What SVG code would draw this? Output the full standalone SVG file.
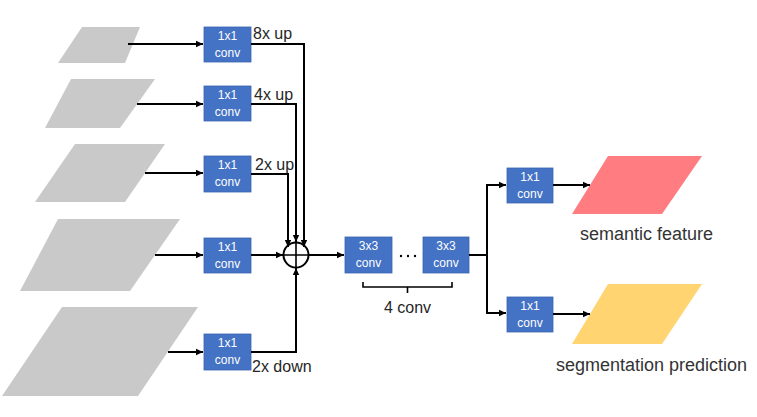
<svg xmlns="http://www.w3.org/2000/svg" width="757" height="417" viewBox="0 0 757 417">
<style>
.feat{fill:#c9c9c9}
.box{fill:#4472c4;stroke:#3a64b0;stroke-width:0.8}
.bt{font-family:"Liberation Sans",Arial,sans-serif;font-size:12px;fill:#ffffff;text-anchor:middle}
.lbl{font-family:"Liberation Sans",Arial,sans-serif;font-size:16px;fill:#262626}
.big{font-family:"Liberation Sans",Arial,sans-serif;font-size:18px;fill:#333333}
.ln{fill:none;stroke:#000;stroke-width:2}
</style>
<defs>
<marker id="ah" markerUnits="userSpaceOnUse" markerWidth="8" markerHeight="8" refX="7" refY="4" orient="auto">
<path d="M0,0.8 L7,4 L0,7.2 Z" fill="#000"/>
</marker>
</defs>
<rect width="757" height="417" fill="#ffffff"/>
<g id="feature-maps">
<polygon id="f1" class="feat" points="82,27 140,27 125,63 58,63"/>
<polygon id="f2" class="feat" points="71,79 155,79 120,128 45,128"/>
<polygon id="f3" class="feat" points="75,144 165,144 125,202 35,202"/>
<polygon id="f4" class="feat" points="58,219 180,219 130,291 20,291"/>
<polygon id="f5" class="feat" points="62,307 198,307 138,396 2,396"/>
</g>
<g id="conv1">
<rect class="box" x="204" y="27" width="47" height="35"/>
<text class="bt" x="227.5" y="40">1x1</text><text class="bt" x="227.5" y="57">conv</text>
</g>
<g id="conv2">
<rect class="box" x="204" y="86" width="47" height="35"/>
<text class="bt" x="227.5" y="99">1x1</text><text class="bt" x="227.5" y="116">conv</text>
</g>
<g id="conv3">
<rect class="box" x="204" y="156" width="47" height="36"/>
<text class="bt" x="227.5" y="169">1x1</text><text class="bt" x="227.5" y="186">conv</text>
</g>
<g id="conv4">
<rect class="box" x="204" y="238" width="47" height="35"/>
<text class="bt" x="227.5" y="251">1x1</text><text class="bt" x="227.5" y="268">conv</text>
</g>
<g id="conv5">
<rect class="box" x="204" y="334" width="47" height="36"/>
<text class="bt" x="227.5" y="347">1x1</text><text class="bt" x="227.5" y="364">conv</text>
</g>
<g id="sum">
<circle cx="296" cy="255" r="12.5" fill="#fff" stroke="#000" stroke-width="2"/>
<path d="M283.5,255 H308.5 M296,242.5 V267.5" stroke="#000" stroke-width="1.6"/>
</g>
<g id="conv3x3a">
<rect class="box" x="345" y="237" width="47" height="36"/>
<text class="bt" x="368.5" y="250">3x3</text><text class="bt" x="368.5" y="267">conv</text>
</g>
<g id="conv3x3b">
<rect class="box" x="423" y="237" width="46" height="36"/>
<text class="bt" x="446" y="250">3x3</text><text class="bt" x="446" y="267">conv</text>
</g>
<g id="dots">
<circle cx="401" cy="256" r="1.2" fill="#000"/>
<circle cx="408" cy="256" r="1.2" fill="#000"/>
<circle cx="415" cy="256" r="1.2" fill="#000"/>
</g>
<g id="brace">
<path d="M363,282 V287 H452 V282 M407.5,287 V293" fill="none" stroke="#000" stroke-width="1.6"/>
<text class="lbl" x="407.5" y="313" text-anchor="middle">4 conv</text>
</g>
<g id="conv-out1">
<rect class="box" x="507" y="168" width="46" height="35"/>
<text class="bt" x="530" y="181">1x1</text><text class="bt" x="530" y="198">conv</text>
</g>
<g id="conv-out2">
<rect class="box" x="507" y="297" width="46" height="35"/>
<text class="bt" x="530" y="310">1x1</text><text class="bt" x="530" y="327">conv</text>
</g>
<g id="semantic-feature">
<polygon points="608,156 702,156 662,214 572,214" fill="#ff7c80"/>
<text class="big" x="580" y="240">semantic feature</text>
</g>
<g id="segmentation-prediction">
<polygon points="608,284 702,284 662,344 572,344" fill="#ffd471"/>
<text class="big" x="556" y="371">segmentation prediction</text>
</g>
<g id="labels">
<text class="lbl" x="253" y="39">8x up</text>
<text class="lbl" x="254" y="100">4x up</text>
<text class="lbl" x="255" y="170">2x up</text>
<text class="lbl" x="252" y="372">2x down</text>
</g>
<g id="connectors">
<path class="ln" d="M128,44 H203" marker-end="url(#ah)"/>
<path class="ln" d="M137,104 H203" marker-end="url(#ah)"/>
<path class="ln" d="M145,173 H203" marker-end="url(#ah)"/>
<path class="ln" d="M155,255 H203" marker-end="url(#ah)"/>
<path class="ln" d="M168,352 H203" marker-end="url(#ah)"/>
<path class="ln" d="M251,44 H304 V247" marker-end="url(#ah)"/>
<path class="ln" d="M251,104 H296 V242" marker-end="url(#ah)"/>
<path class="ln" d="M251,174 H288 V247" marker-end="url(#ah)"/>
<path class="ln" d="M251,255 H283" marker-end="url(#ah)"/>
<path class="ln" d="M251,352 H296 V268" marker-end="url(#ah)"/>
<path class="ln" d="M308.5,255 H344" marker-end="url(#ah)"/>
<path class="ln" d="M469,255 H487"/>
<path class="ln" d="M487,314 V185 H506" marker-end="url(#ah)"/>
<path class="ln" d="M487,313 H506" marker-end="url(#ah)"/>
<path class="ln" d="M553,185 H590" marker-end="url(#ah)"/>
<path class="ln" d="M553,314 H590" marker-end="url(#ah)"/>
</g>
</svg>
